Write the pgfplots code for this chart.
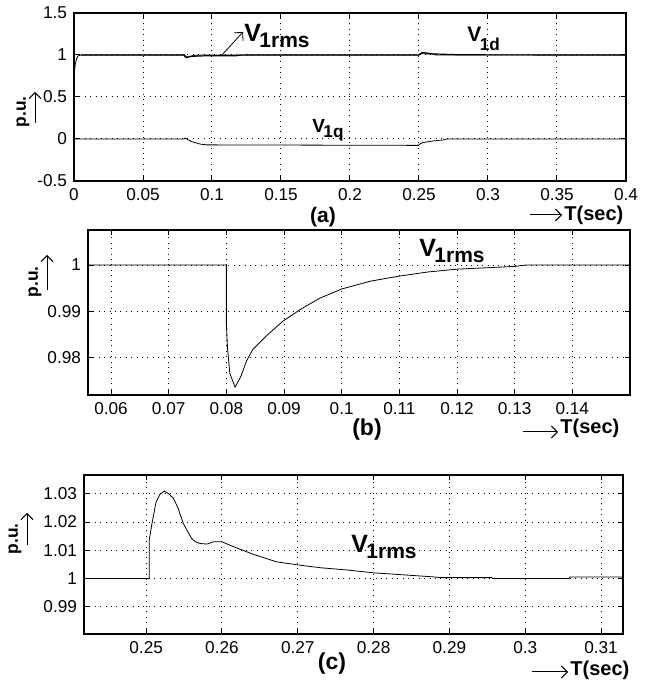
\documentclass[border=0pt]{standalone}
\usepackage{pgfplots}
\pgfplotsset{compat=1.18}
\usepackage{fontspec}
\setmainfont{Liberation Sans}
\usetikzlibrary{arrows.meta}

\pgfplotsset{
 mystyle/.style={
  scale only axis,
  axis line style={line width=0.75pt},
  grid=major,
  major grid style={black, line width=0.5pt, dash pattern=on 0.5pt off 2.2pt},
  tick style={black, line width=0.5pt},
  major tick length=2.5pt, tick align=inside,
  ticklabel style={font=\fontsize{8.6}{10}\selectfont},
  /pgf/number format/assume math mode=true,
  scaled ticks=false,
  /pgf/number format/fixed, /pgf/number format/precision=3,
  cycle list={{black, line width=0.6pt, mark=none}},
 }
}
\newcommand\Vlab[5]{{\fontsize{#1}{#1}\selectfont\bfseries V\kern-0.8pt\raisebox{-#4}{\fontsize{#2}{#2}\selectfont #3}}}

\begin{document}
\begin{tikzpicture}
\path (0pt,0pt) rectangle (319pt,342.5pt);

% ---------- (a)
\begin{axis}[mystyle, at={(37pt,252pt)}, anchor=south west, width=276pt, height=84pt,
  xmin=0, xmax=0.4, ymin=-0.5, ymax=1.5,
  xtick={0,0.05,0.1,0.15,0.2,0.25,0.3,0.35,0.4},
  ytick={-0.5,0,0.5,1,1.5}]
\addplot coordinates {(0,0.44)(0.0003,0.8)(0.001,0.9)(0.002,0.96)(0.003,0.99)(0.005,1)(0.0795,1)(0.0805,0.975)(0.082,0.965)(0.084,0.985)(0.087,0.995)(0.09,1)(0.25,1)(0.2505,1.015)(0.26,1.012)(0.262,1.0)(0.4,1)};
\addplot coordinates {(0.005,1)(0.08,1)(0.0815,0.975)(0.085,0.982)(0.09,0.988)(0.1,0.992)(0.118,0.992)(0.12,0.998)(0.13,1)(0.25,1)(0.2525,1.03)(0.26,1.013)(0.28,1.002)(0.4,1)};
\addplot coordinates {(0,0)(0.0795,0)(0.0805,0.01)(0.085,-0.03)(0.0913,-0.06)(0.096,-0.07)(0.2495,-0.076)(0.2505,-0.06)(0.2528,-0.043)(0.26,-0.024)(0.268,-0.01)(0.27,0)(0.4,0)};
\end{axis}
\begin{scope}[x=0.5pt,y=0.5pt]
\draw[-{Straight Barb[length=3pt]}, line width=0.4pt] (222,630) -- (243,653);
\node[anchor=base west, inner sep=0] at (244,643) {\Vlab{12.5}{10.5}{1rms}{3pt}{}};
\node[anchor=base west, inner sep=0] at (467,643) {\Vlab{10.5}{8.6}{1d}{4.5pt}{}};
\node[anchor=base west, inner sep=0] at (312,552) {\Vlab{9.5}{8.6}{1q}{2.5pt}{}};
\node[inner sep=0, font=\fontsize{10.5}{12}\selectfont\bfseries] at (323,468) {(a)};
\draw[-{Straight Barb[length=3pt]}, line width=0.5pt] (530,470) -- (562,470);
\node[anchor=west, inner sep=0, font=\fontsize{10}{12}\selectfont\bfseries] at (564,470) {T(sec)};
\node[rotate=90, inner sep=0, font=\fontsize{8.7}{10}\selectfont\bfseries] at (23,573) {p.u.};
\draw[-{Straight Barb[length=3pt]}, line width=0.5pt] (35,562) -- (35,593);
\end{scope}

% ---------- (b)
\begin{axis}[mystyle, at={(44pt,145pt)}, anchor=south west, width=271pt, height=82.5pt,
  xmin=0.056, xmax=0.15, ymin=0.9718, ymax=1.0076,
  xtick={0.06,0.07,0.08,0.09,0.1,0.11,0.12,0.13,0.14},
  ytick={0.98,0.99,1}]
\addplot coordinates {(0.056,1)(0.08,1)(0.08,0.9874)(0.0802,0.982)(0.0806,0.9765)(0.0815,0.9735)(0.0825,0.9758)(0.0835,0.9792)(0.0846,0.9817)(0.087,0.9847)(0.0898,0.9878)(0.093,0.9905)(0.0962,0.9928)(0.1,0.9948)(0.105,0.9965)(0.11,0.9976)(0.115,0.9985)(0.12,0.9991)(0.125,0.9994)(0.13,0.9997)(0.132,1)(0.15,1)};
\end{axis}
\begin{scope}[x=0.5pt,y=0.5pt]
\node[anchor=base west, inner sep=0] at (419,428) {\Vlab{12.5}{10.5}{1rms}{3pt}{}};
\node[inner sep=0, font=\fontsize{11.5}{13}\selectfont\bfseries] at (367,255) {(b)};
\draw[-{Straight Barb[length=3pt]}, line width=0.5pt] (523,253) -- (558,253);
\node[anchor=west, inner sep=0, font=\fontsize{10}{12}\selectfont\bfseries] at (560,257) {T(sec)};
\node[rotate=90, inner sep=0, font=\fontsize{8.7}{10}\selectfont\bfseries] at (35,403) {p.u.};
\draw[-{Straight Barb[length=3pt]}, line width=0.5pt] (47,395) -- (47,430);
\end{scope}

% ---------- (c)
\begin{axis}[mystyle, at={(42pt,25.5pt)}, anchor=south west, width=269.5pt, height=79.5pt,
  xmin=0.2418, xmax=0.3129, ymin=0.9803, ymax=1.0367,
  xtick={0.25,0.26,0.27,0.28,0.29,0.3,0.31},
  ytick={0.99,1,1.01,1.02,1.03}]
\addplot coordinates {(0.2418,1)(0.2504,1)(0.2504,1.0136)(0.2508,1.02)(0.2513,1.027)(0.2518,1.0298)(0.2524,1.031)(0.253,1.0300)(0.2536,1.0284)(0.2542,1.025)(0.2549,1.0195)(0.2555,1.0165)(0.256,1.0142)(0.2565,1.013)(0.2571,1.0124)(0.258,1.0122)(0.2589,1.013)(0.26,1.013)(0.2614,1.0114)(0.2641,1.0086)(0.2672,1.0059)(0.2703,1.0047)(0.273,1.0038)(0.2765,1.003)(0.28,1.002)(0.2877,1.0006)(0.289,1.0003)(0.2956,1.0003)(0.2957,1.0)(0.3058,1.0)(0.3059,1.0005)(0.3129,1.0005)};
\end{axis}
\begin{scope}[x=0.5pt,y=0.5pt]
\node[anchor=base west, inner sep=0] at (351,132) {\Vlab{12.5}{10.5}{1rms}{3pt}{}};
\node[inner sep=0, font=\fontsize{11.5}{13}\selectfont\bfseries] at (332,21) {(c)};
\draw[-{Straight Barb[length=3pt]}, line width=0.5pt] (532,13) -- (568,13);
\node[anchor=west, inner sep=0, font=\fontsize{10}{12}\selectfont\bfseries] at (570,15) {T(sec)};
\node[rotate=90, inner sep=0, font=\fontsize{8.7}{10}\selectfont\bfseries] at (15,146) {p.u.};
\draw[-{Straight Barb[length=3pt]}, line width=0.5pt] (27,140) -- (27,172);
\end{scope}
\end{tikzpicture}
\end{document}
